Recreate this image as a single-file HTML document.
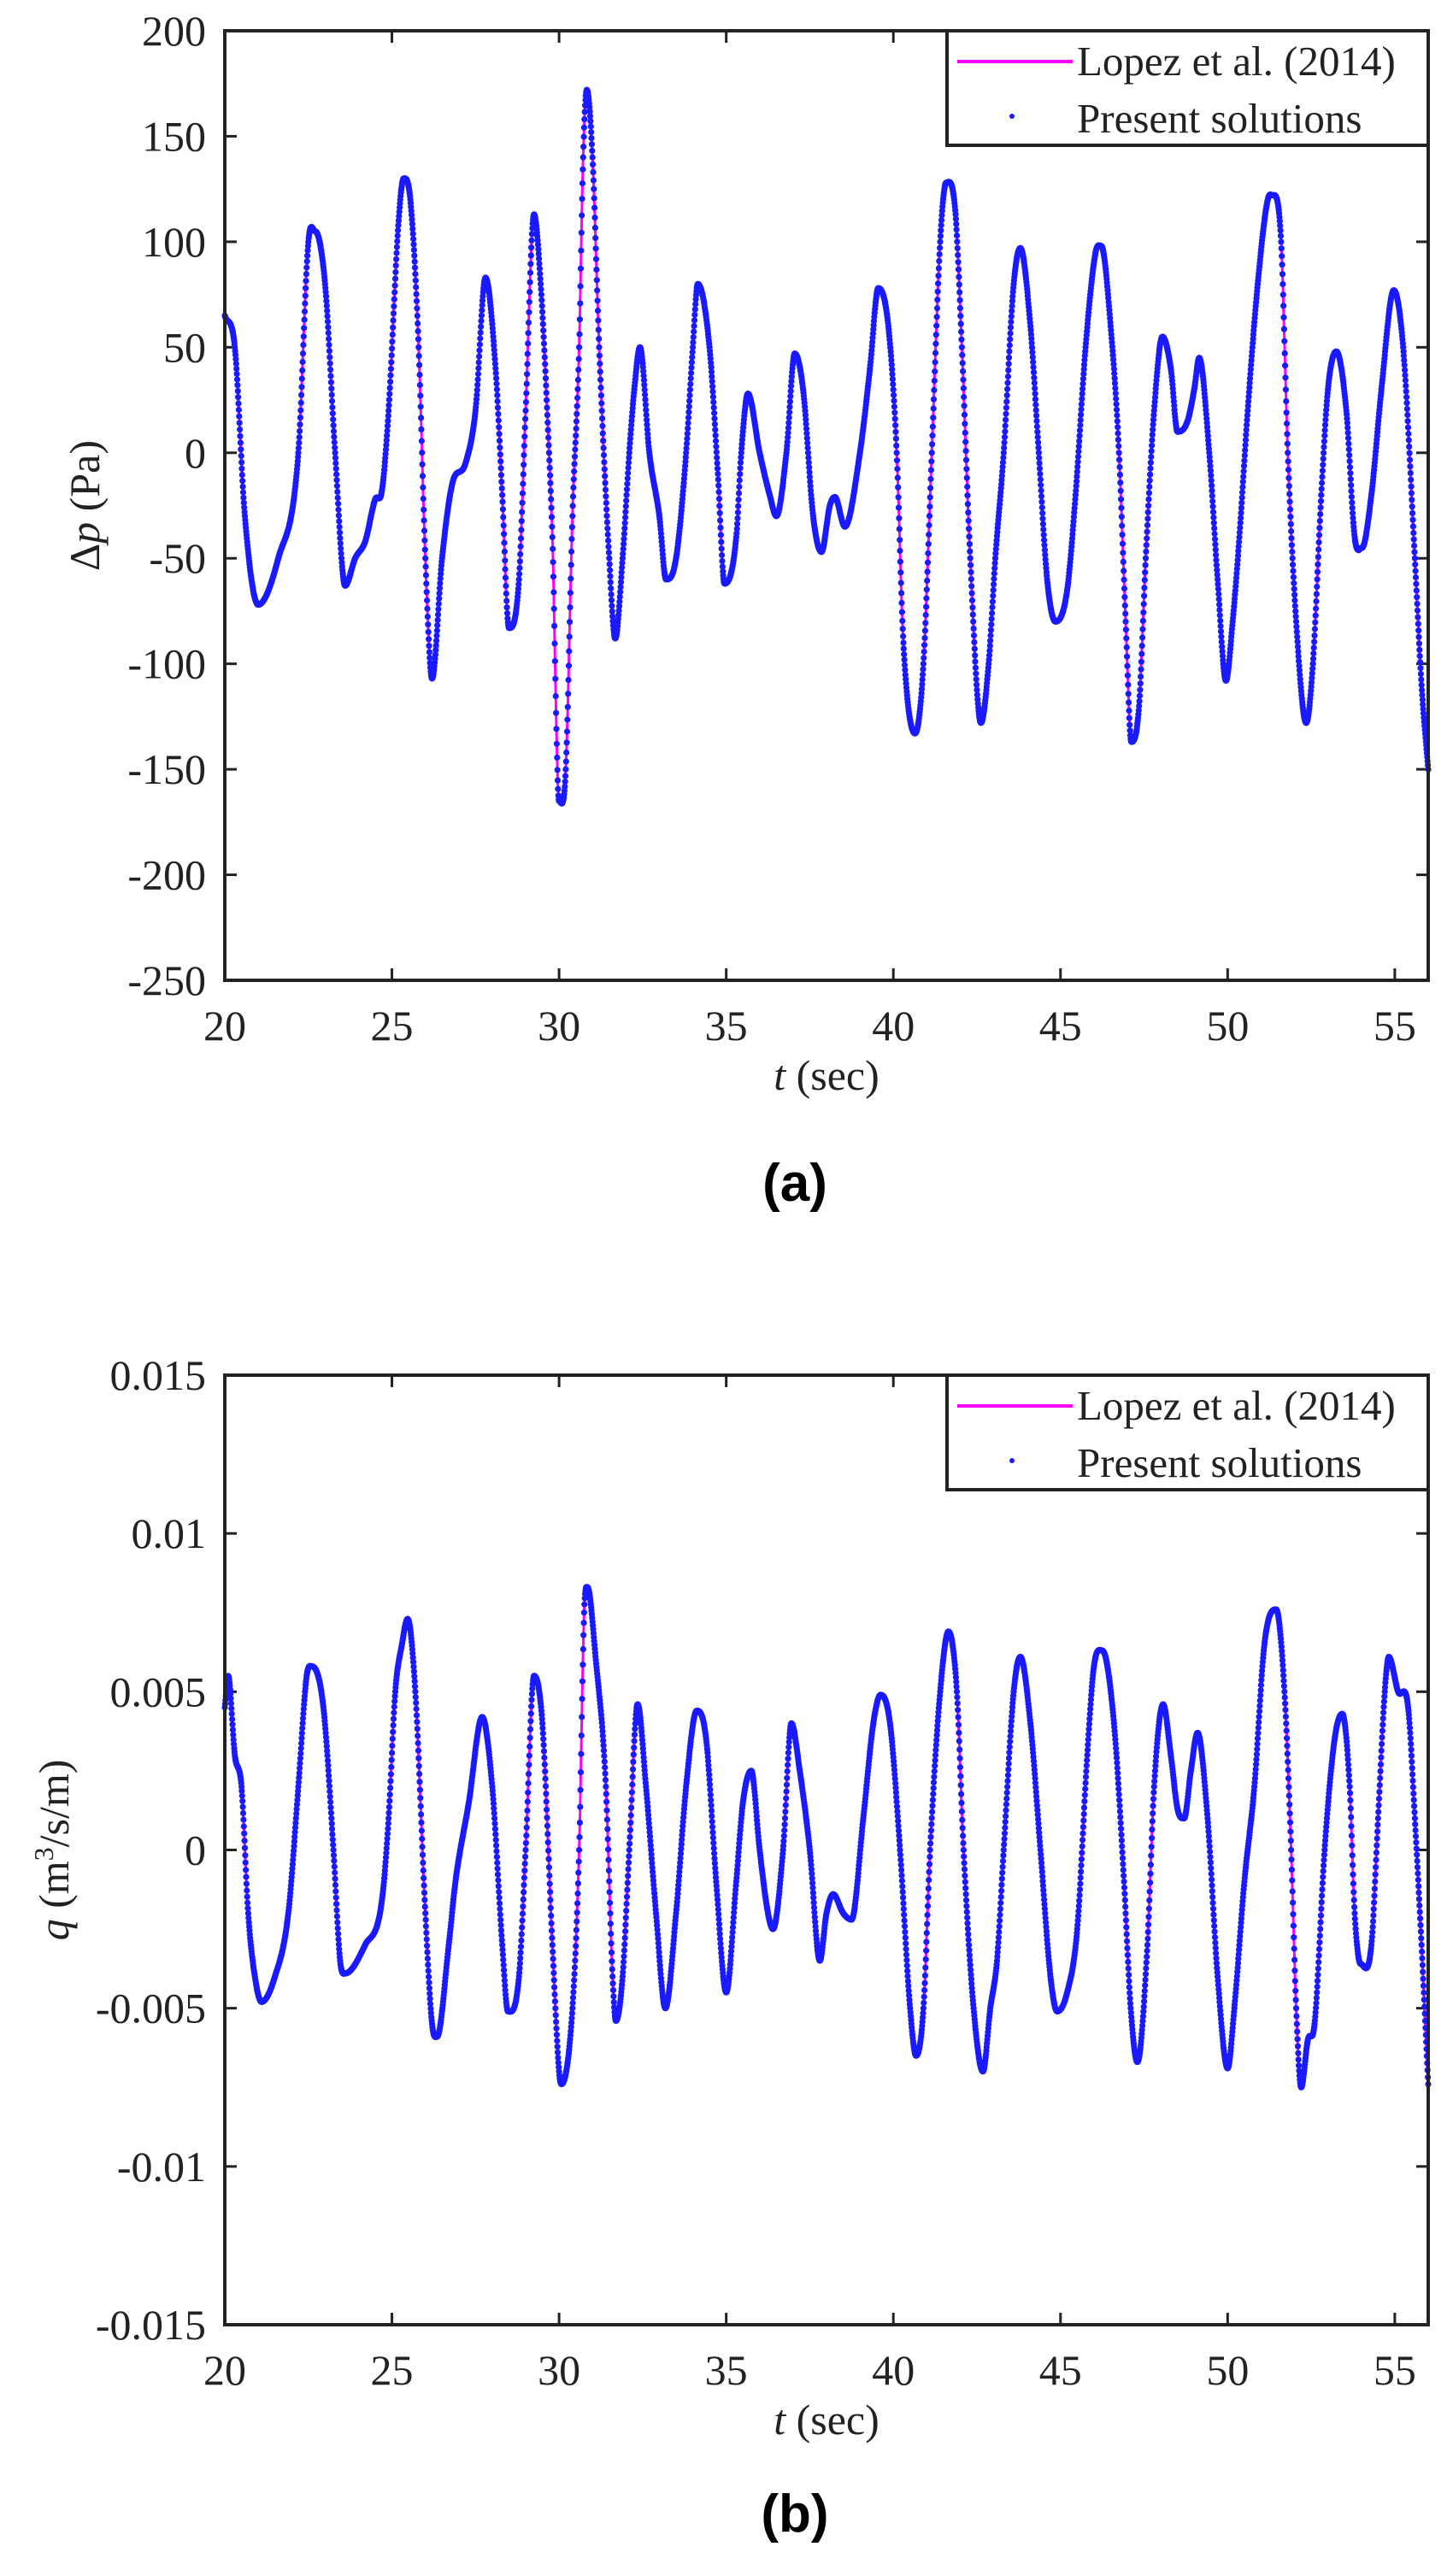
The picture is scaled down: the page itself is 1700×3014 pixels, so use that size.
<!DOCTYPE html>
<html><head><meta charset="utf-8">
<style>
html,body{margin:0;padding:0;background:#fff;overflow:hidden;}
svg{display:block;}
text{font-family:"Liberation Serif",serif;fill:#222;}
</style></head>
<body>
<svg id="s" width="1700" height="3014" viewBox="0 0 1700 3014" xmlns="http://www.w3.org/2000/svg">
<rect width="1700" height="3014" fill="#fff"/>
<g id="g"></g>
</svg>
<script>
const NS="http://www.w3.org/2000/svg";
const G=document.getElementById('g');
function el(tag,attrs,txt){const e=document.createElementNS(NS,tag);for(const k in attrs)e.setAttribute(k,attrs[k]);if(txt!==undefined)e.textContent=txt;G.appendChild(e);return e;}
const X0=263,X1=1671;
function xp(t){return X0+(t-20)*(X1-X0)/36;}

const dataA=[[20,65],[20.3,50],[20.6,-30],[21,-72],[21.6,-50],[22.2,0],[22.5,100],[22.7,105],[23.0,80],[23.3,0],[23.6,-63],[23.9,-50],[24.2,-42],[24.5,-22],[24.7,-18],[24.9,20],[25.2,110],[25.35,130],[25.55,120],[25.8,50],[26.0,-50],[26.2,-107],[26.5,-50],[26.8,-15],[27.2,-5],[27.5,20],[27.8,83],[28.1,40],[28.3,-20],[28.5,-83],[28.8,-60],[29.0,20],[29.25,113],[29.45,80],[29.7,0],[29.8,-40],[30.0,-165],[30.2,-150],[30.4,-30],[30.6,50],[30.72,140],[30.83,172],[31.0,140],[31.2,50],[31.5,-50],[31.68,-88],[31.9,-50],[32.1,0],[32.25,30],[32.42,50],[32.7,0],[33.0,-30],[33.2,-60],[33.5,-50],[33.8,0],[34.0,50],[34.15,80],[34.5,50],[34.75,-10],[34.95,-62],[35.3,-40],[35.45,0],[35.65,28],[36.0,0],[36.3,-20],[36.5,-30],[36.8,0],[37.05,47],[37.3,30],[37.6,-30],[37.85,-47],[38.1,-25],[38.25,-21],[38.55,-35],[39.0,0],[39.3,40],[39.55,78],[39.85,60],[40.1,0],[40.3,-90],[40.65,-133],[40.9,-100],[41.15,0],[41.4,100],[41.58,128],[41.85,115],[42.05,50],[42.3,-50],[42.62,-128],[42.85,-100],[43.05,-50],[43.3,0],[43.6,80],[43.8,97],[44.1,60],[44.35,0],[44.6,-60],[44.85,-80],[45.2,-65],[45.45,-20],[45.75,50],[46.05,95],[46.22,98],[46.5,60],[46.75,0],[46.95,-80],[47.12,-137],[47.35,-120],[47.55,-50],[47.8,20],[48.05,55],[48.3,40],[48.5,10],[48.8,15],[49.0,30],[49.15,45],[49.45,0],[49.7,-60],[49.95,-108],[50.15,-80],[50.35,-40],[50.6,20],[50.9,80],[51.2,120],[51.35,122],[51.6,100],[51.8,0],[52.05,-80],[52.35,-128],[52.55,-100],[52.8,-20],[53.0,30],[53.25,48],[53.55,20],[53.8,-40],[54.02,-45],[54.3,-20],[54.6,30],[54.97,77],[55.25,50],[55.6,-50],[55.8,-110],[56,-150]];
const dataB=[[20,4.5],[20.1,5.5],[20.3,3],[20.5,2],[20.7,-2],[20.9,-4],[21.1,-4.8],[21.5,-4],[21.9,-2],[22.2,2],[22.45,5.5],[22.6,5.8],[22.95,4.5],[23.25,0],[23.45,-3.5],[23.6,-3.9],[24.2,-3],[24.7,-1.6],[24.9,1],[25.1,5],[25.3,6.5],[25.47,7.3],[25.7,5],[26.0,-2],[26.2,-5.5],[26.35,-5.9],[26.7,-3],[26.9,-1],[27.3,1.5],[27.7,4.2],[28.0,2],[28.3,-3],[28.47,-5.1],[28.8,-4],[29.0,0],[29.25,5.5],[29.5,4],[29.8,-3],[30.0,-7],[30.07,-7.4],[30.4,-5],[30.6,0],[30.75,7.5],[30.85,8.3],[31.1,6],[31.4,2],[31.6,-4],[31.7,-5.4],[31.9,-4],[32.1,0],[32.35,4.6],[32.6,2],[32.9,-2],[33.18,-5],[33.5,-2],[33.8,2],[34.12,4.4],[34.4,3.5],[34.7,-1],[35.0,-4.5],[35.3,-1],[35.5,1.5],[35.75,2.5],[36.0,0],[36.25,-2],[36.4,-2.5],[36.7,0],[36.95,4],[37.2,2.5],[37.5,0],[37.8,-3.5],[38.0,-2],[38.2,-1.4],[38.5,-2],[38.75,-2.2],[39.1,1],[39.4,4],[39.62,4.9],[39.9,4],[40.2,0],[40.5,-5],[40.68,-6.5],[40.9,-5],[41.1,0],[41.4,5],[41.65,6.9],[41.9,5],[42.1,0],[42.4,-5],[42.68,-7],[42.9,-5],[43.1,-3.5],[43.3,0],[43.6,5],[43.8,6.1],[44.1,4],[44.4,0],[44.7,-4],[44.9,-5.1],[45.2,-4.5],[45.5,-2.5],[45.8,3],[46.0,5.8],[46.25,6.3],[46.6,4],[46.9,-1],[47.1,-5],[47.3,-6.7],[47.6,-3],[47.8,2],[48.07,4.6],[48.3,3],[48.5,1.3],[48.7,1],[48.9,2.5],[49.1,3.7],[49.4,1],[49.7,-4],[50.0,-6.9],[50.2,-5],[50.5,-1],[50.8,2],[51.1,6.5],[51.45,7.6],[51.7,5],[51.9,0],[52.05,-5],[52.2,-7.5],[52.4,-6],[52.6,-5.5],[52.9,0],[53.2,3.5],[53.43,4.3],[53.65,2],[53.8,-2],[53.98,-3.6],[54.3,-3],[54.5,1],[54.7,5],[54.82,6.1],[55.1,5],[55.4,4.5],[55.6,1],[55.8,-3],[56.0,-7.4]];

function interp(d){
  const n=d.length,m=[];
  for(let i=0;i<n;i++){
    if(i==0)m.push((d[1][1]-d[0][1])/(d[1][0]-d[0][0]));
    else if(i==n-1)m.push((d[n-1][1]-d[n-2][1])/(d[n-1][0]-d[n-2][0]));
    else{const s1=(d[i][1]-d[i-1][1])/(d[i][0]-d[i-1][0]),s2=(d[i+1][1]-d[i][1])/(d[i+1][0]-d[i][0]);
      m.push(s1*s2<=0?0:(s1+s2)/2);}
  }
  const pts=[];let j=0;
  for(let k=0;k<=3600;k++){
    const t=20+k*0.01;
    while(j<n-2&&t>d[j+1][0])j++;
    const h=d[j+1][0]-d[j][0],u=(t-d[j][0])/h;
    const h00=2*u*u*u-3*u*u+1,h10=u*u*u-2*u*u+u,h01=-2*u*u*u+3*u*u,h11=u*u*u-u*u;
    pts.push([t,h00*d[j][1]+h10*h*m[j]+h01*d[j+1][1]+h11*h*m[j+1]]);
  }
  return pts;
}

function plot(Y0,Y1,vmax,vmin,ticks,fmt,data,ylabel,cap,capY,legTop,ylx){
  const yp=v=>Y0+(vmax-v)*(Y1-Y0)/(vmax-vmin);
  for(let t=20;t<=55;t+=5){const x=xp(t);
    el('line',{x1:x,y1:Y1,x2:x,y2:Y1-14,stroke:'#222','stroke-width':3});
    el('line',{x1:x,y1:Y0,x2:x,y2:Y0+14,stroke:'#222','stroke-width':3});
    el('text',{x:x,y:Y1+70,'font-size':50,'text-anchor':'middle'},String(t));}
  ticks.forEach((v,i)=>{const y=yp(v);
    el('line',{x1:X0,y1:y,x2:X0+14,y2:y,stroke:'#222','stroke-width':3});
    el('line',{x1:X1,y1:y,x2:X1-14,y2:y,stroke:'#222','stroke-width':3});
    el('text',{x:241,y:y+17,'font-size':50,'text-anchor':'end'},fmt[i]);});
  const pts=interp(data);
  let dstr='';pts.forEach((p,i)=>{dstr+=(i?'L':'M')+xp(p[0]).toFixed(1)+' '+yp(p[1]).toFixed(1);});
  el('path',{d:dstr,fill:'none',stroke:'#ff00ff','stroke-width':3});
  const grp=document.createElementNS(NS,'g');grp.setAttribute('fill','#1a1aff');G.appendChild(grp);
  pts.forEach(p=>{const c=document.createElementNS(NS,'circle');c.setAttribute('cx',xp(p[0]).toFixed(1));c.setAttribute('cy',yp(p[1]).toFixed(1));c.setAttribute('r',3.6);grp.appendChild(c);});
  el('rect',{x:X0,y:Y0,width:X1-X0,height:Y1-Y0,fill:'none',stroke:'#222','stroke-width':4});
  el('rect',{x:1108,y:legTop,width:X1-1108,height:134,fill:'#fff',stroke:'#222','stroke-width':4});
  el('line',{x1:1120,y1:legTop+36,x2:1255,y2:legTop+36,stroke:'#ff00ff','stroke-width':4});
  el('text',{x:1260,y:legTop+52,'font-size':49},'Lopez et al. (2014)');
  el('circle',{cx:1184,cy:legTop+100,r:3,fill:'#1a1aff'});
  el('text',{x:1260,y:legTop+119,'font-size':49},'Present solutions');
  const xl=el('text',{x:967,y:Y1+128,'font-size':50,'text-anchor':'middle'});
  xl.innerHTML='<tspan font-style="italic">t</tspan> (sec)';
  const yl=el('text',{x:0,y:0,'font-size':50,'text-anchor':'middle',transform:`translate(${ylx},${(Y0+Y1)/2}) rotate(-90)`});
  yl.innerHTML=ylabel;
  el('text',{x:930,y:capY+22,'font-size':62,'text-anchor':'middle',style:'font-family:"Liberation Sans",sans-serif;font-weight:bold;fill:#000'},cap);
}
plot(36,1147,200,-250,[200,150,100,50,0,-50,-100,-150,-200,-250],['200','150','100','50','0','-50','-100','-150','-200','-250'],dataA,'Δ<tspan font-style="italic">p</tspan> (Pa)','(a)',1383,36,116);
plot(1609,2720,15,-15,[15,10,5,0,-5,-10,-15],['0.015','0.01','0.005','0','-0.005','-0.01','-0.015'],dataB,'<tspan font-style="italic">q</tspan> (m<tspan dy="-18" font-size="32">3</tspan><tspan dy="18">/s/m)</tspan>','(b)',2940,1609,80);
</script>
</body></html>
